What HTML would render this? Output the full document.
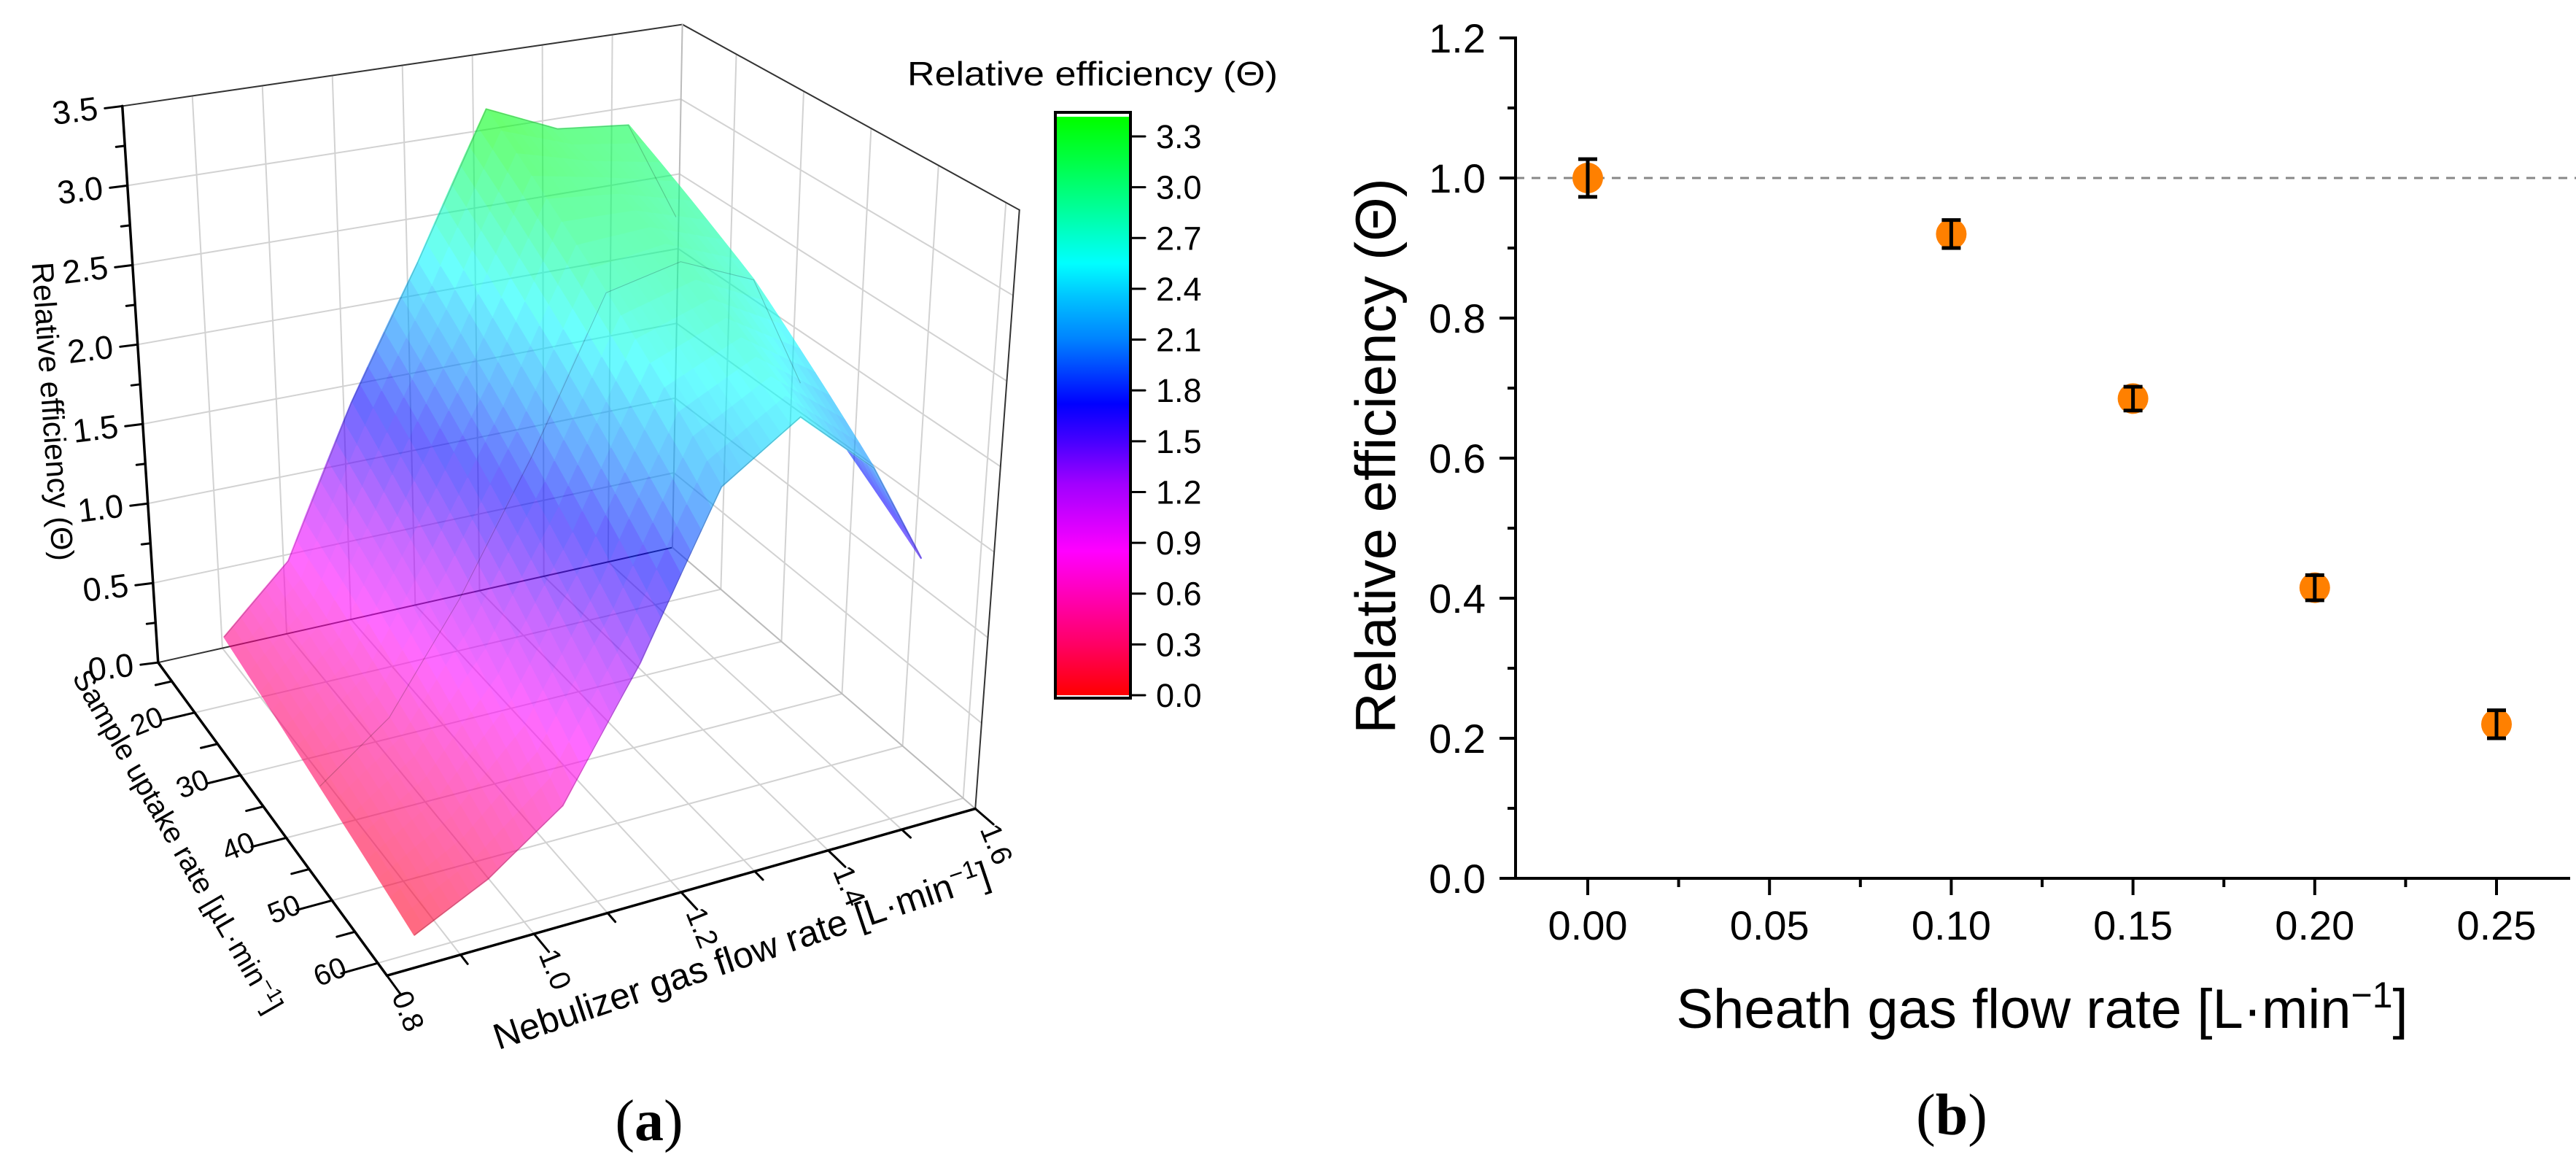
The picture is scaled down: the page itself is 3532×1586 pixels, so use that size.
<!DOCTYPE html>
<html><head><meta charset="utf-8"><style>
html,body{margin:0;padding:0;background:#fff;}
svg{display:block;font-family:"Liberation Sans",Arial,sans-serif;}
</style></head><body>
<svg id="fig" width="3532" height="1586" viewBox="0 0 3532 1586" xmlns="http://www.w3.org/2000/svg">
<rect width="3532" height="1586" fill="#fff"/>
<g id="panelA"></g>
<g id="panelB"></g>
<text x="890" y="1563" text-anchor="middle" font-family="Liberation Serif,serif" font-size="80">(<tspan font-weight="bold">a</tspan>)</text>
<text x="2676" y="1555" text-anchor="middle" font-family="Liberation Serif,serif" font-size="80">(<tspan font-weight="bold">b</tspan>)</text>
</svg>
<script>
// ---------- Panel (b) data ----------
const sheathFlow = [0.00, 0.10, 0.15, 0.20, 0.25];
const relEff = [1.00, 0.92, 0.685, 0.415, 0.22];
const relErr = [0.027, 0.02, 0.017, 0.018, 0.02];
const xTicksB = [0.00, 0.05, 0.10, 0.15, 0.20, 0.25];
const xTickLabelsB = ["0.00", "0.05", "0.10", "0.15", "0.20", "0.25"];
const yTicksB = [0.0, 0.2, 0.4, 0.6, 0.8, 1.0, 1.2];
const yTickLabelsB = ["0.0", "0.2", "0.4", "0.6", "0.8", "1.0", "1.2"];

// ---------- Panel (a) data ----------
const nebFlow = [0.85, 0.95, 1.05, 1.15, 1.25, 1.35, 1.45, 1.52];
const uptakeRows = [20, 40, 60];
const effRow20 = [0.42, 0.80, 1.70, 2.50, 3.40, 3.20, 3.15, 2.50];
const effRow40 = [0.25, 0.55, 1.15, 1.90, 2.80, 2.90, 2.70, 2.00];
const effRow60 = [0.10, 0.30, 0.60, 1.30, 2.20, 2.50, 2.10, 1.50];
const zTicks = [0.0, 0.5, 1.0, 1.5, 2.0, 2.5, 3.0, 3.5];
const zTickLabels = ["0.0", "0.5", "1.0", "1.5", "2.0", "2.5", "3.0", "3.5"];
const sTicks = [20, 30, 40, 50, 60];
const sTickLabels = ["20", "30", "40", "50", "60"];
const nTicks = [0.8, 1.0, 1.2, 1.4, 1.6];
const nTickLabels = ["0.8", "1.0", "1.2", "1.4", "1.6"];
const cbTicks = [0.0, 0.3, 0.6, 0.9, 1.2, 1.5, 1.8, 2.1, 2.4, 2.7, 3.0, 3.3];
const cbTickLabels = ["0.0", "0.3", "0.6", "0.9", "1.2", "1.5", "1.8", "2.1", "2.4", "2.7", "3.0", "3.3"];

const NS = "http://www.w3.org/2000/svg";
function mk(parent, tag, attrs, text) {
  const e = document.createElementNS(NS, tag);
  for (const k in attrs) e.setAttribute(k, attrs[k]);
  if (text !== undefined) e.textContent = text;
  parent.appendChild(e);
  return e;
}

// ================= Panel B =================
(function () {
  const g = document.getElementById('panelB');
  const X0 = 2177, XS = 4984, Y0 = 1204, YS = 960;
  const xs = v => X0 + v * XS;
  const ys = v => Y0 - v * YS;
  let e = mk(g, 'line', { x1: 2078, x2: 3532, y1: ys(1.0), y2: ys(1.0), stroke: '#888', 'stroke-width': 3, 'stroke-dasharray': '12,10' });
  
  
  e = mk(g, 'line', { x1: 2078, x2: 2078, y1: ys(1.2) - 2, y2: Y0 + 2, stroke: '#000', 'stroke-width': 4 });
  
  
  e = mk(g, 'line', { x1: 2056, x2: 3524, y1: Y0, y2: Y0, stroke: '#000', 'stroke-width': 4 });
  
  
  yTicksB.forEach((v, i) => {
    const tk = mk(g, 'line', { x1: 2056, x2: 2078, y1: ys(v), y2: ys(v), stroke: '#000', 'stroke-width': 4 });
    
    
    if (i < yTicksB.length - 1) {
      const m = mk(g, 'line', { x1: 2067, x2: 2078, y1: ys(v + 0.1), y2: ys(v + 0.1), stroke: '#000', 'stroke-width': 4 });
      
      
    }
    const l = mk(g, 'text', { x: 2037, y: ys(v) + 20, 'text-anchor': 'end', 'font-size': 56 }, yTickLabelsB[i]);
    
    
  });
  xTicksB.forEach((v, i) => {
    const tk = mk(g, 'line', { x1: xs(v), x2: xs(v), y1: Y0, y2: Y0 + 23, stroke: '#000', 'stroke-width': 4 });
    
    
    const l = mk(g, 'text', { x: xs(v), y: 1288, 'text-anchor': 'middle', 'font-size': 56 }, xTickLabelsB[i]);
    
    
  });
  [-0.025, 0.025, 0.075, 0.125, 0.175, 0.225, 0.275].forEach(v => {
    if (xs(v) < 2078 || xs(v) > 3524) return;
    const m = mk(g, 'line', { x1: xs(v), x2: xs(v), y1: Y0, y2: Y0 + 12, stroke: '#000', 'stroke-width': 4 });
    
    
  });
  sheathFlow.forEach((v, i) => {
    const cx = xs(v), cy = ys(relEff[i]);
    const c = mk(g, 'circle', { cx: cx, cy: cy, r: 21, fill: '#ff8000' });
    
    
    const yt = ys(relEff[i] + relErr[i]), yb = ys(relEff[i] - relErr[i]);
    const eb = mk(g, 'path', { d: `M${cx},${yt}V${yb}M${cx - 13},${yt}H${cx + 13}M${cx - 13},${yb}H${cx + 13}`, stroke: '#000', 'stroke-width': 5, fill: 'none' });
    
    
  });
  let tt = mk(g, 'text', { x: 2800, y: 1409, 'text-anchor': 'middle', 'font-size': 76 });
  tt.innerHTML = 'Sheath gas flow rate [L·min<tspan dy="-28" font-size="50">−1</tspan><tspan dy="28">]</tspan>';
  
  
  tt = mk(g, 'text', { x: 0, y: 0, 'text-anchor': 'middle', 'font-size': 78, transform: 'translate(1913,625) rotate(-90)' }, 'Relative efficiency (Θ)');
  
  
})();

// ================= Panel A =================
(function () {
  const g = document.getElementById('panelA');
  const FX = 1.141, FY = 1.017;
  const C = (x, y) => [x * FX, y * FY];
  const L = C(190, 893), F = C(465, 1315), R = C(1172, 1090), B = C(808, 738);
  const dL = [-43 * FX, -750 * FY], dB = [12 * FX, -705 * FY], dR = [53 * FX, -807 * FY], dF = [-2 * FX, -852 * FY];
  const nMin = 0.8, nMax = 1.6, sMin = 12, sMax = 62, zMax = 3.5;
  function bil(a, b, c, d, u, t) {
    return [0, 1].map(k => a[k] * (1 - u) * (1 - t) + b[k] * (1 - u) * t + c[k] * u * t + d[k] * u * (1 - t));
  }
  function P(n, s, z) {
    const u = (n - nMin) / (nMax - nMin), t = (s - sMin) / (sMax - sMin);
    const f = bil(L, F, R, B, u, t), dz = bil(dL, dF, dR, dB, u, t);
    return [f[0] + dz[0] * z / zMax, f[1] + dz[1] * z / zMax];
  }
  const pt = p => p[0].toFixed(1) + ',' + p[1].toFixed(1);
  function line(a, b, stroke, w, name) {
    const e = mk(g, 'line', { x1: a[0], y1: a[1], x2: b[0], y2: b[1], stroke: stroke, 'stroke-width': w, 'stroke-linecap': 'round' });
    
    
    return e;
  }
  const grid = '#d2d2d2';
  zTicks.forEach(z => {
    if (z === 0) return;
    line(P(nMin, sMin, z), P(nMax, sMin, z), grid, 2, 'back-wall-gridline');
    line(P(nMax, sMin, z), P(nMax, sMax, z), grid, 2, 'side-wall-gridline');
  });
  [0.9, 1.0, 1.1, 1.2, 1.3, 1.4, 1.5].forEach(n => {
    line(P(n, sMin, 0), P(n, sMin, zMax), grid, 2, 'back-wall-gridline');
    line(P(n, sMin, 0), P(n, sMax, 0), grid, 2, 'floor-gridline');
  });
  [20, 30, 40, 50, 60].forEach(s => {
    line(P(nMax, s, 0), P(nMax, s, zMax), grid, 2, 'side-wall-gridline');
    line(P(nMin, s, 0), P(nMax, s, 0), grid, 2, 'floor-gridline');
  });
  line(P(nMin, sMin, zMax), P(nMax, sMin, zMax), '#333', 2, 'box-edge');
  line(P(nMax, sMin, zMax), P(nMax, sMax, zMax), '#333', 2, 'box-edge');
  line(P(nMax, sMax, 0), P(nMax, sMax, zMax), '#333', 2, 'box-edge');
  line(P(nMax, sMin, 0), P(nMax, sMin, zMax), '#bbb', 2, 'box-edge');
  line(P(nMin, sMin, 0), P(nMax, sMin, 0), '#333', 2, 'box-edge');
  line(P(nMax, sMin, 0), P(nMax, sMax, 0), '#bbb', 2, 'box-edge');

  const cmStops = [[0, 255, 0, 0], [0.3, 255, 0, 100], [0.85, 255, 0, 255], [1.25, 160, 0, 255], [1.5, 70, 0, 255], [1.72, 0, 0, 255], [2.1, 0, 130, 255], [2.35, 0, 195, 255], [2.55, 0, 255, 255], [2.85, 0, 255, 160], [3.15, 0, 255, 70], [3.4, 0, 255, 0]];
  function cmap(z) {
    if (z <= cmStops[0][0]) return `rgb(${cmStops[0][1]},${cmStops[0][2]},${cmStops[0][3]})`;
    for (let i = 1; i < cmStops.length; i++) {
      if (z <= cmStops[i][0]) {
        const a = cmStops[i - 1], b = cmStops[i], f = (z - a[0]) / (b[0] - a[0]);
        return `rgb(${Math.round(a[1] + f * (b[1] - a[1]))},${Math.round(a[2] + f * (b[2] - a[2]))},${Math.round(a[3] + f * (b[3] - a[3]))})`;
      }
    }
    const l = cmStops[cmStops.length - 1];
    return `rgb(${l[1]},${l[2]},${l[3]})`;
  }

  const rows = [effRow20, effRow40, effRow60];
  const surf = mk(g, 'g', { opacity: 0.58 });
  
  
  const SUB = 8, quads = [];
  function zAt(i, j, a, b) {
    const z00 = rows[j][i], z10 = rows[j][i + 1], z01 = rows[j + 1][i], z11 = rows[j + 1][i + 1];
    return z00 * (1 - a) * (1 - b) + z10 * a * (1 - b) + z01 * (1 - a) * b + z11 * a * b;
  }
  for (let j = 0; j < uptakeRows.length - 1; j++) {
    for (let i = 0; i < nebFlow.length - 1; i++) {
      for (let q = 0; q < SUB; q++) for (let p = 0; p < SUB; p++) {
        const pts = [[p, q], [p + 1, q], [p + 1, q + 1], [p, q + 1]].map(([pp, qq]) => {
          const a = pp / SUB, b = qq / SUB;
          const n = nebFlow[i] + a * (nebFlow[i + 1] - nebFlow[i]);
          const s = uptakeRows[j] + b * (uptakeRows[j + 1] - uptakeRows[j]);
          return { p: P(n, s, zAt(i, j, a, b)), f: P(n, s, 0) };
        });
        const zc = zAt(i, j, (p + 0.5) / SUB, (q + 0.5) / SUB);
        const depth = pts.reduce((acc, o) => acc + o.f[1], 0) / 4;
        quads.push({ d: pts.map(o => pt(o.p)).join(' '), c: cmap(zc), depth: depth });
      }
    }
  }
  quads.sort((a, b) => a.depth - b.depth);
  quads.forEach(qd => {
    const e = mk(surf, 'polygon', { points: qd.d, fill: qd.c, stroke: qd.c, 'stroke-width': 2.5, 'stroke-linejoin': 'round' });
    
    
  });
  rows.forEach((row, j) => {
    const d = nebFlow.map((n, i) => (i ? 'L' : 'M') + pt(P(n, uptakeRows[j], row[i]))).join('');
    const e = mk(g, 'path', { d: d, fill: 'none', stroke: '#000', 'stroke-opacity': 0.2, 'stroke-width': 1.2 });
    
    
  });

  line(P(nMin, sMin, 0), P(nMin, sMin, zMax), '#000', 3.5, 'z-axis');
  line(P(nMin, sMin, 0), P(nMin, sMax, 0), '#000', 3.5, 'sample-uptake-axis');
  line(P(nMin, sMax, 0), P(nMax, sMax, 0), '#000', 3.5, 'nebulizer-axis');
  zTicks.forEach((z, i) => {
    const a = P(nMin, sMin, z);
    line(a, [a[0] - 24, a[1] + 3], '#000', 3, 'z-tick');
    if (i < zTicks.length - 1) { const m = P(nMin, sMin, z + 0.25); line(m, [m[0] - 12, m[1] + 1.5], '#000', 3, 'z-minor-tick'); }
    const e = mk(g, 'text', { x: 0, y: 0, 'text-anchor': 'end', 'font-size': 45, transform: `translate(${a[0] - 32},${a[1] + 18}) rotate(-7)` }, zTickLabels[i]);
    
    
  });
  sTicks.forEach((s, i) => {
    const a = P(nMin, s, 0), b = P(nMin - 0.05, s, 0);
    line(a, b, '#000', 3, 's-tick');
    const m = P(nMin, s - 5, 0), mb = P(nMin - 0.025, s - 5, 0);
    line(m, mb, '#000', 3, 's-minor-tick');
    const e = mk(g, 'text', { x: 0, y: 0, 'text-anchor': 'end', 'font-size': 40, transform: `translate(${a[0] - 40},${a[1] + 16}) rotate(-22)` }, sTickLabels[i]);
    
    
  });
  nTicks.forEach((n, i) => {
    const a = P(n, sMax, 0), b = P(n, sMax + 3, 0);
    line(a, b, '#000', 3, 'n-tick');
    if (i < nTicks.length - 1) { const m = P(n + 0.1, sMax, 0), mb = P(n + 0.1, sMax + 1.5, 0); line(m, mb, '#000', 3, 'n-minor-tick'); }
    const e = mk(g, 'text', { x: 0, y: 0, 'font-size': 40, transform: `translate(${a[0] + 6},${a[1] + 28}) rotate(68)` }, nTickLabels[i]);
    
    
  });
  let tt = mk(g, 'text', { x: 0, y: 0, 'text-anchor': 'middle', 'font-size': 42, transform: 'translate(58,565) rotate(86)' }, 'Relative efficiency (Θ)');
  
  
  tt = mk(g, 'text', { x: 0, y: 0, 'text-anchor': 'middle', 'font-size': 40, transform: 'translate(232,1160) rotate(60)' });
  tt.innerHTML = 'Sample uptake rate [µL·min<tspan dy="-14" font-size="28">−1</tspan><tspan dy="14">]</tspan>';
  
  
  tt = mk(g, 'text', { x: 0, y: 0, 'text-anchor': 'middle', 'font-size': 50, transform: 'translate(1022,1326) rotate(-18.5)' });
  tt.innerHTML = 'Nebulizer gas flow rate [L·min<tspan dy="-18" font-size="34">−1</tspan><tspan dy="18">]</tspan>';
  
  

  const CBX = 1447, CBW = 103, CB0 = 953, CBS = (953 - 187) / 3.3;
  const cy = v => CB0 - v * CBS;
  const defs = mk(g, 'defs', {});
  const grad = mk(defs, 'linearGradient', { id: 'cbgrad', x1: 0, y1: 1, x2: 0, y2: 0 });
  const topV = (CB0 - 160) / CBS;
  cmStops.forEach(s => mk(grad, 'stop', { offset: Math.min(1, s[0] / topV), 'stop-color': `rgb(${s[1]},${s[2]},${s[3]})` }));
  let e = mk(g, 'rect', { x: CBX, y: 160, width: CBW, height: CB0 - 160, fill: 'url(#cbgrad)' });
  
  
  e = mk(g, 'rect', { x: CBX, y: 154, width: CBW, height: 803, fill: 'none', stroke: '#000', 'stroke-width': 4 });
  
  
  cbTicks.forEach((v, i) => {
    line([CBX + CBW, cy(v)], [1570, cy(v)], '#000', 3, 'colorbar-tick');
    const l = mk(g, 'text', { x: 1585, y: cy(v) + 16, 'font-size': 45 }, cbTickLabels[i]);
    
    
  });
  tt = mk(g, 'text', { x: 1244, y: 117, 'font-size': 46, textLength: 508, lengthAdjust: 'spacingAndGlyphs' }, 'Relative efficiency (Θ)');
  
  
})();
</script>
</body></html>
